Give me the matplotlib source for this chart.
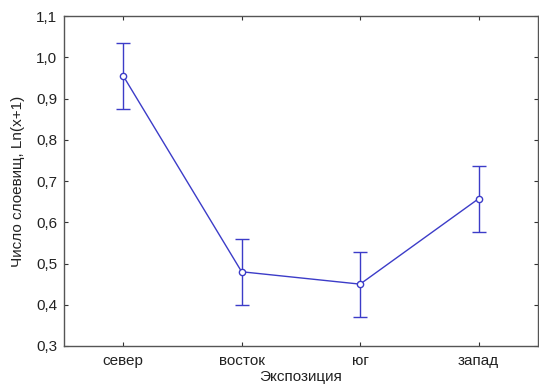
import matplotlib
matplotlib.use("Agg")
import matplotlib.pyplot as plt
from matplotlib.ticker import FixedLocator, FixedFormatter

categories = ["север", "восток", "юг", "запад"]
means = [0.955, 0.480, 0.450, 0.657]
upper = [1.035, 0.560, 0.529, 0.737]
lower = [0.875, 0.400, 0.370, 0.577]
yticks = [0.3, 0.4, 0.5, 0.6, 0.7, 0.8, 0.9, 1.0, 1.1]
ytick_labels = ["0,3", "0,4", "0,5", "0,6", "0,7", "0,8", "0,9", "1,0", "1,1"]

plt.rcParams['font.family'] = ['Liberation Sans', 'DejaVu Sans']

fs = 11
fig = plt.figure(figsize=(5.39, 3.85), dpi=100)
ax = fig.add_axes([0.1187, 0.1013, 0.879, 0.857])

x = list(range(len(categories)))
err_lo = [m - l for m, l in zip(means, lower)]
err_hi = [u - m for m, u in zip(means, upper)]
color = "#3c3cc8"
ax.errorbar(x, means, yerr=[err_lo, err_hi], color=color, lw=1.0, elinewidth=1.0,
            capsize=5, capthick=1.0, marker='o', markersize=4.5,
            markerfacecolor='white', markeredgecolor=color, markeredgewidth=1.0)

ax.set_xlim(-0.5, 3.5)
ax.set_ylim(0.3, 1.1)
ax.set_xticks(x)
ax.set_xticklabels(categories, fontsize=fs, color="#222222")
ax.yaxis.set_major_locator(FixedLocator(yticks))
ax.yaxis.set_major_formatter(FixedFormatter(ytick_labels))
ax.tick_params(axis='y', labelsize=fs, labelcolor="#222222", pad=5)
ax.tick_params(axis='x', pad=6)
ax.tick_params(direction='in', top=True, right=True, length=3, width=0.8, color="#333333")
for s in ax.spines.values():
    s.set_color("#555555")
    s.set_linewidth(1.0)

ax.set_ylabel("Число слоевищ, Ln(x+1)", fontsize=fs, color="#222222", labelpad=8)
ax.set_xlabel("Экспозиция", fontsize=fs, color="#222222", labelpad=1)

fig.savefig("out.png", dpi=100)
